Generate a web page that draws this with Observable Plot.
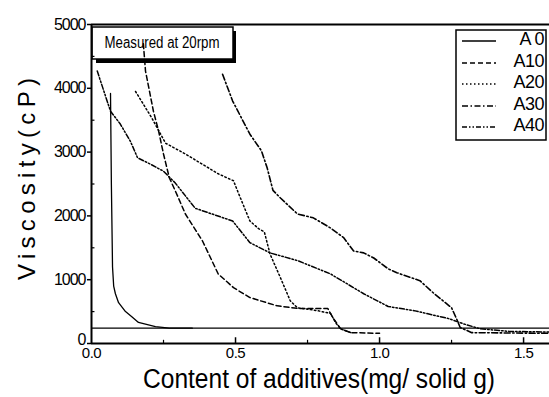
<!DOCTYPE html>
<html><head><meta charset="utf-8">
<script src="https://cdn.jsdelivr.net/npm/d3@7"></script>
<script src="https://cdn.jsdelivr.net/npm/@observablehq/plot@0.6"></script>
<style>body{margin:0;background:#fff} svg{display:block}</style>
</head><body><div id="chart"></div>
<script>
// ---- data ----
const seriesNames = ["A0", "A10", "A20", "A30", "A40"];
const legendLabels = ["A 0", "A10", "A20", "A30", "A40"];

const a0X = [0.066, 0.069, 0.073, 0.077, 0.083, 0.094, 0.118, 0.14, 0.163, 0.222, 0.27, 0.35];
const a0Y = [3920, 2500, 1200, 900, 780, 640, 500, 420, 330, 265, 240, 240];

const a10X = [0.18, 0.1875, 0.215, 0.233, 0.25, 0.27, 0.3, 0.326, 0.385, 0.44, 0.493, 0.55, 0.645, 0.715, 0.82, 0.84, 0.865, 0.9, 1.0];
const a10Y = [4700, 4270, 3640, 3330, 2970, 2600, 2300, 2030, 1610, 1090, 875, 720, 590, 550, 550, 390, 230, 170, 160];

const a20X = [0.153, 0.21, 0.257, 0.326, 0.44, 0.493, 0.517, 0.55, 0.58, 0.6, 0.62, 0.656, 0.69, 0.715, 0.785, 0.83, 0.85, 0.865, 0.9];
const a20Y = [3950, 3530, 3140, 2970, 2660, 2550, 2280, 1920, 1800, 1750, 1400, 1030, 670, 560, 515, 470, 310, 230, 170];

const a30X = [0.455, 0.49, 0.55, 0.59, 0.61, 0.63, 0.656, 0.715, 0.77, 0.83, 0.875, 0.91, 0.945, 0.98, 1.03, 1.06, 1.14, 1.19, 1.25, 1.27, 1.28, 1.32, 1.45, 1.59];
const a30Y = [4220, 3800, 3280, 3020, 2750, 2400, 2280, 2030, 1970, 1810, 1660, 1450, 1420, 1340, 1170, 1110, 985, 780, 560, 360, 250, 170, 165, 160];

const a40X = [0.02, 0.066, 0.1, 0.135, 0.16, 0.205, 0.25, 0.29, 0.36, 0.49, 0.55, 0.62, 0.715, 0.83, 0.945, 1.03, 1.12, 1.24, 1.29, 1.35, 1.45, 1.59];
const a40Y = [4270, 3640, 3440, 3170, 2910, 2810, 2700, 2520, 2120, 1920, 1580, 1420, 1300, 1090, 780, 580, 515, 390, 310, 230, 190, 180];

const baselineLevel = [240];
const xTickValues = [0, 0.5, 1.0, 1.5];
const xMinorTicks = [0.25, 0.75, 1.25];
const yTickValues = [0, 1000, 2000, 3000, 4000, 5000];
const yMinorTicks = [500, 1500, 2500, 3500, 4500];
const noteText = "Measured at 20rpm";
const xLabel = "Content of additives(mg/ solid g)";
const yLabel = "Viscosity(cP)";

// ---- build tables ----
const seriesX = [a0X, a10X, a20X, a30X, a40X];
const seriesY = [a0Y, a10Y, a20Y, a30Y, a40Y];
const tables = seriesNames.map((name, i) => seriesX[i].map((x, j) => ({series: name, x, y: seriesY[i][j]})));

// styles
const dashes = [null, "5,3", "1.5,2.5", "6,2.5,1.5,2.5", "5,2,1.5,2,1.5,2"];
const widths = [1.3, 1.5, 1.5, 1.6, 1.5];
const FONT = "'Liberation Sans', Arial, sans-serif";

const lineMarks = tables.map((t, i) => Plot.line(t, {
  x: "x", y: "y", stroke: "black", strokeWidth: widths[i],
  strokeDasharray: dashes[i] || undefined, curve: "linear"
}));

const svg = Plot.plot({
  width: 549, height: 397,
  marginLeft: 91, marginRight: 0, marginTop: 24, marginBottom: 54,
  x: {domain: [0, 1.59]},
  y: {domain: [0, 5000]},
  style: {fontFamily: FONT, background: "white", color: "black"},
  marks: [
    Plot.axisY(yTickValues, {tickSize: 4, tickPadding: 2, fontSize: 16, strokeWidth: 1.5, tickFormat: d => String(d), label: null}),
    Plot.axisX(xTickValues, {tickSize: 0, tickPadding: 4, fontSize: 15, tickFormat: d3.format(".1f"), label: null}),
    Plot.ruleX(xTickValues.slice(1), {y1: 0, y2: 90, strokeWidth: 1.5}),
    Plot.ruleX(xMinorTicks, {y1: 0, y2: 50, strokeWidth: 1.2}),
    Plot.ruleY(yMinorTicks, {x1: 0, x2: 0.012, strokeWidth: 1.2}),
    Plot.ruleY(baselineLevel, {strokeWidth: 1.3}),
    ...lineMarks,
    Plot.ruleX([0], {strokeWidth: 2}),
    Plot.ruleY([0, 5000], {strokeWidth: 2})
  ]
});

const s = d3.select(svg);
s.selectAll('g[aria-label="y-axis tick label"] text')
  .style("letter-spacing", "-1px")
  .each(function() { if (this.textContent === "0") d3.select(this).attr("dy", "-0.25em"); });
s.selectAll('g[aria-label="x-axis tick label"] text').style("letter-spacing", "-0.5px");

// note box (below the lines)
const note = s.insert("g", "style + *").attr("font-family", FONT);
note.append("rect").attr("x", 96).attr("y", 31).attr("width", 140).attr("height", 32).attr("fill", "black");
note.append("rect").attr("x", 92).attr("y", 27).attr("width", 141).attr("height", 32)
  .attr("fill", "white").attr("stroke", "black").attr("stroke-width", 1.5);
note.append("text").attr("x", 162).attr("y", 48).attr("text-anchor", "middle")
  .attr("font-size", 16).attr("textLength", 115).attr("lengthAdjust", "spacingAndGlyphs").text(noteText);

// legend
const lg = s.append("g").attr("font-family", FONT);
lg.append("rect").attr("x", 456).attr("y", 30).attr("width", 90).attr("height", 110)
  .attr("fill", "white").attr("stroke", "black").attr("stroke-width", 1.5);
const legendY = [39, 61, 82, 104, 125];
legendLabels.forEach((lab, i) => {
  lg.append("line").attr("x1", 462).attr("x2", 496).attr("y1", legendY[i] + 2).attr("y2", legendY[i] + 2)
    .attr("stroke", "black").attr("stroke-width", widths[i]).attr("stroke-dasharray", dashes[i]);
  lg.append("text").attr("x", 544).attr("y", legendY[i]).attr("dy", "0.35em").attr("text-anchor", "end")
    .attr("font-size", 18).attr("letter-spacing", "-0.5px").text(lab);
});

// axis titles
s.append("text").attr("x", 319).attr("y", 388).attr("text-anchor", "middle")
  .attr("font-family", FONT).attr("font-size", 27)
  .attr("textLength", 352).attr("lengthAdjust", "spacingAndGlyphs").text(xLabel);
s.append("text").attr("transform", "translate(35,179) rotate(-90)").attr("text-anchor", "middle")
  .attr("font-family", FONT).attr("font-size", 24)
  .attr("textLength", 202).attr("lengthAdjust", "spacing").text(yLabel);

document.getElementById("chart").append(svg);
</script>
</body></html>
